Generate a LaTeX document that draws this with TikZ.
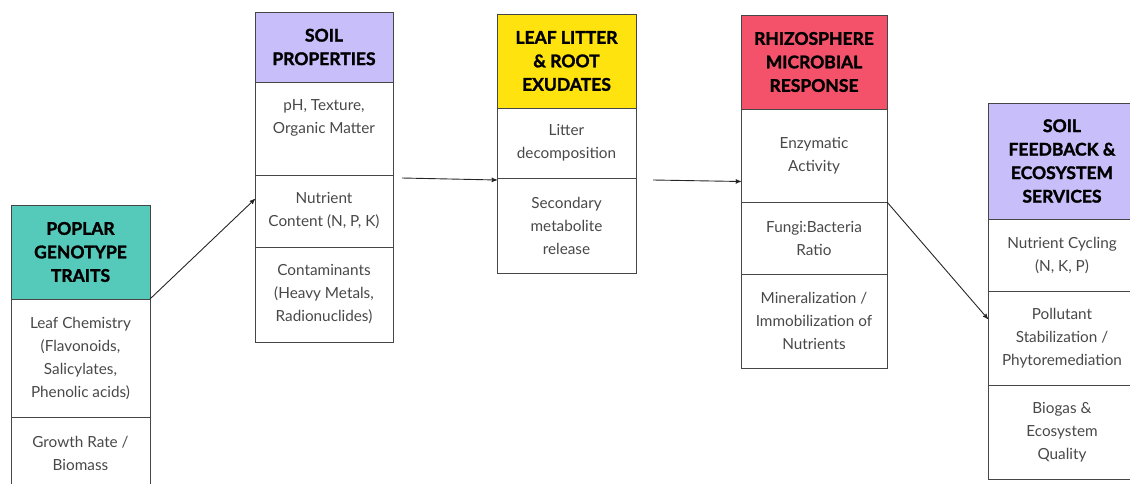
\documentclass[tikz,border=0pt]{standalone}
\usepackage{fontspec}
\setmainfont{Lato}
\newfontfamily\headfont[BoldFeatures={FakeBold=1.6}]{Lato}
\usetikzlibrary{positioning, arrows}

\definecolor{tealhead}{RGB}{85,201,186}
\definecolor{lilachead}{RGB}{199,190,250}
\definecolor{yellowhead}{RGB}{255,227,15}
\definecolor{redhead}{RGB}{243,82,106}
\definecolor{boxline}{RGB}{70,70,70}
\definecolor{bodytext}{RGB}{72,72,72}

\begin{document}
\begin{tikzpicture}[x=1pt,y=-1pt,>=stealth',shorten >=.2pt,
     node distance=0pt,
     cell/.style={draw=boxline, line width=0.8pt, rectangle, align=center,
       inner sep=0pt, outer sep=0pt, text=bodytext,
       font=\fontsize{15.3}{23}\selectfont},
     head/.style={cell, text=black, font=\headfont\fontsize{17.5}{23.5}\selectfont\bfseries},
     link/.style={draw=black!85, line width=0.9pt}]

  \useasboundingbox (0,0) rectangle (1130,484);
  \clip (0,0) rectangle (1130,484);

  % poplar genotype
  \node[head, fill=tealhead, minimum width=139pt, minimum height=94pt, anchor=north west] (pophd) at (11,205) {POPLAR\\GENOTYPE\\TRAITS};
  \node[cell, minimum width=139pt, minimum height=118pt, below=of pophd] (popA) {Leaf Chemistry\\(Flavonoids,\\Salicylates,\\Phenolic acids)};
  \node[cell, minimum width=139pt, minimum height=73pt, below=of popA] (popB) {Growth Rate /\\Biomass};

  % soil properties
  \node[head, fill=lilachead, minimum width=138pt, minimum height=70pt, anchor=north west] (soilhd) at (255,12) {SOIL\\PROPERTIES};
  \node[cell, minimum width=138pt, minimum height=93pt, below=of soilhd] (soilA) {pH, Texture,\\Organic Matter\\\mbox{}};
  \node[cell, minimum width=138pt, minimum height=72pt, below=of soilA] (soilB) {Nutrient\\Content (N, P, K)};
  \node[cell, minimum width=138pt, minimum height=95pt, below=of soilB] (soilC) {Contaminants\\(Heavy Metals,\\Radionuclides)};

  % leaf litter
  \node[head, fill=yellowhead, minimum width=139pt, minimum height=94pt, anchor=north west] (lithd) at (497,14) {LEAF LITTER\\\& ROOT\\EXUDATES};
  \node[cell, minimum width=139pt, minimum height=70pt, below=of lithd] (litA) {Litter\\decomposition};
  \node[cell, minimum width=139pt, minimum height=95pt, below=of litA] (litB) {Secondary\\metabolite\\release};

  % rhizosphere
  \node[head, fill=redhead, minimum width=146pt, minimum height=94pt, anchor=north west] (rhihd) at (741,15) {RHIZOSPHERE\\MICROBIAL\\RESPONSE};
  \node[cell, minimum width=146pt, minimum height=93pt, below=of rhihd] (rhiA) {Enzymatic\\Activity};
  \node[cell, minimum width=146pt, minimum height=72pt, below=of rhiA] (rhiB) {Fungi:Bacteria\\Ratio};
  \node[cell, minimum width=146pt, minimum height=94pt, below=of rhiB] (rhiC) {Mineralization /\\Immobilization of\\Nutrients};

  % soil feedback
  \node[head, fill=lilachead, minimum width=148pt, minimum height=116pt, anchor=north west] (fbhd) at (988,103) {SOIL\\FEEDBACK \&\\ECOSYSTEM\\SERVICES};
  \node[cell, minimum width=148pt, minimum height=72pt, below=of fbhd] (fbA) {Nutrient Cycling\\(N, K, P)};
  \node[cell, minimum width=148pt, minimum height=94pt, below=of fbA] (fbB) {Pollutant\\Stabilization /\\Phytoremediation};
  \node[cell, minimum width=148pt, minimum height=94pt, below=of fbB] (fbC) {Biogas \&\\Ecosystem\\Quality};

  \path[->]
   (pophd.south east) edge[link] ([yshift=12pt]soilB.west)
   ([xshift=9pt,yshift=-3pt]soilB.north east) edge[link] ([yshift=-2pt]litB.north west)
   ([xshift=17pt,yshift=-2pt]litB.north east) edge[link] ([yshift=-26pt]rhiA.west)
   (rhiB.north east) edge[link] ([yshift=19pt]fbB.west);
\end{tikzpicture}
\end{document}
